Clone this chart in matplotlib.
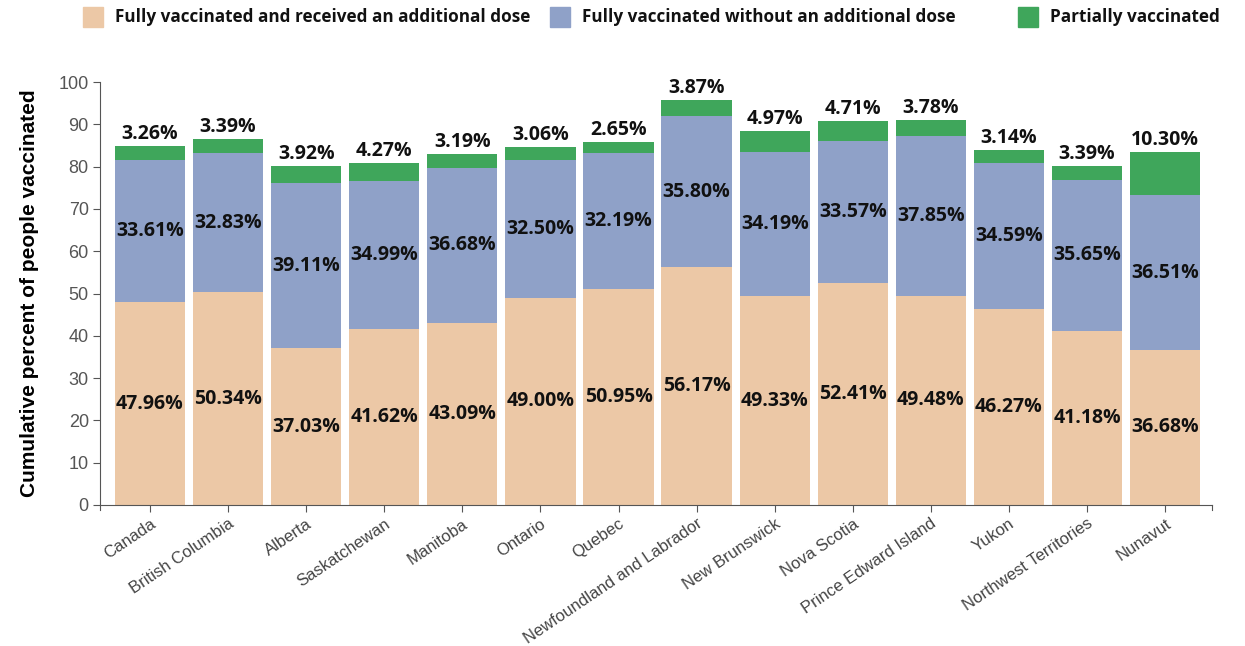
import matplotlib.pyplot as plt
from matplotlib.patches import Rectangle
import numpy as np

# data
regions = ["Canada", "British Columbia", "Alberta", "Saskatchewan", "Manitoba",
           "Ontario", "Quebec", "Newfoundland and Labrador", "New Brunswick",
           "Nova Scotia", "Prince Edward Island", "Yukon",
           "Northwest Territories", "Nunavut"]
additional = [47.96, 50.34, 37.03, 41.62, 43.09, 49.00, 50.95, 56.17, 49.33,
              52.41, 49.48, 46.27, 41.18, 36.68]
fully = [33.61, 32.83, 39.11, 34.99, 36.68, 32.50, 32.19, 35.80, 34.19,
         33.57, 37.85, 34.59, 35.65, 36.51]
partial = [3.26, 3.39, 3.92, 4.27, 3.19, 3.06, 2.65, 3.87, 4.97, 4.71,
           3.78, 3.14, 3.39, 10.30]
series_names = ["Fully vaccinated and received an additional dose",
                "Fully vaccinated without an additional dose",
                "Partially vaccinated"]
colors = ["#ecc8a6", "#8fa1c8", "#3fa65b"]

additional = np.array(additional)
fully = np.array(fully)
partial = np.array(partial)
x = np.arange(len(regions))

fig = plt.figure(figsize=(12.45, 6.46), dpi=100)
ax = fig.add_axes([0.0803, 0.2183, 0.8932, 0.6547])

w = 0.9
ax.bar(x, additional, width=w, color=colors[0])
ax.bar(x, fully, width=w, bottom=additional, color=colors[1])
ax.bar(x, partial, width=w, bottom=additional + fully, color=colors[2])

lab = dict(fontsize=14, fontweight="bold", family="Open Sans", color="#111111",
           ha="center", va="center")
for i in x:
    ax.text(i, additional[i] / 2, f"{additional[i]:.2f}%", **lab)
    ax.text(i, additional[i] + fully[i] / 2, f"{fully[i]:.2f}%", **lab)
    top = additional[i] + fully[i] + partial[i]
    ax.text(i, top + 0.5, f"{partial[i]:.2f}%", **{**lab, "va": "bottom"})

ax.set_xlim(-0.64, len(regions) - 0.4)
ax.set_ylim(0, 100)
ax.set_yticks(range(0, 101, 10))
ax.set_xticks(x)
ax.set_xticklabels(regions, rotation=34, ha="right", rotation_mode="anchor",
                   family="Liberation Sans", fontsize=12, color="#444444")
for t in ax.get_yticklabels():
    t.set_family("Liberation Sans")
    t.set_fontsize(13)
    t.set_color("#555555")
ax.tick_params(axis="both", color="#555555", length=5, pad=3)
for s in ["top", "right"]:
    ax.spines[s].set_visible(False)
for s in ["left", "bottom"]:
    ax.spines[s].set_color("#555555")
# domain end ticks on x axis
for xe in ax.get_xlim():
    ax.plot([xe, xe], [0, -1.2], color="#555555", lw=0.8, clip_on=False)

ax.set_ylabel("Cumulative percent of people vaccinated", family="Liberation Sans",
              fontweight="bold", fontsize=15, labelpad=14)

# legend
leg_x = [83, 550, 1018]
for px, name, c in zip(leg_x, series_names, colors):
    fig.patches.append(Rectangle((px / 1245, 1 - 27 / 646), 20 / 1245, 20 / 646,
                                 transform=fig.transFigure, color=c))
    fig.text((px + 32) / 1245, 1 - 17 / 646, name, family="Open Sans",
             fontweight="bold", fontsize=12.3, va="center", color="#111111")

fig.savefig("out.png", dpi=100)
